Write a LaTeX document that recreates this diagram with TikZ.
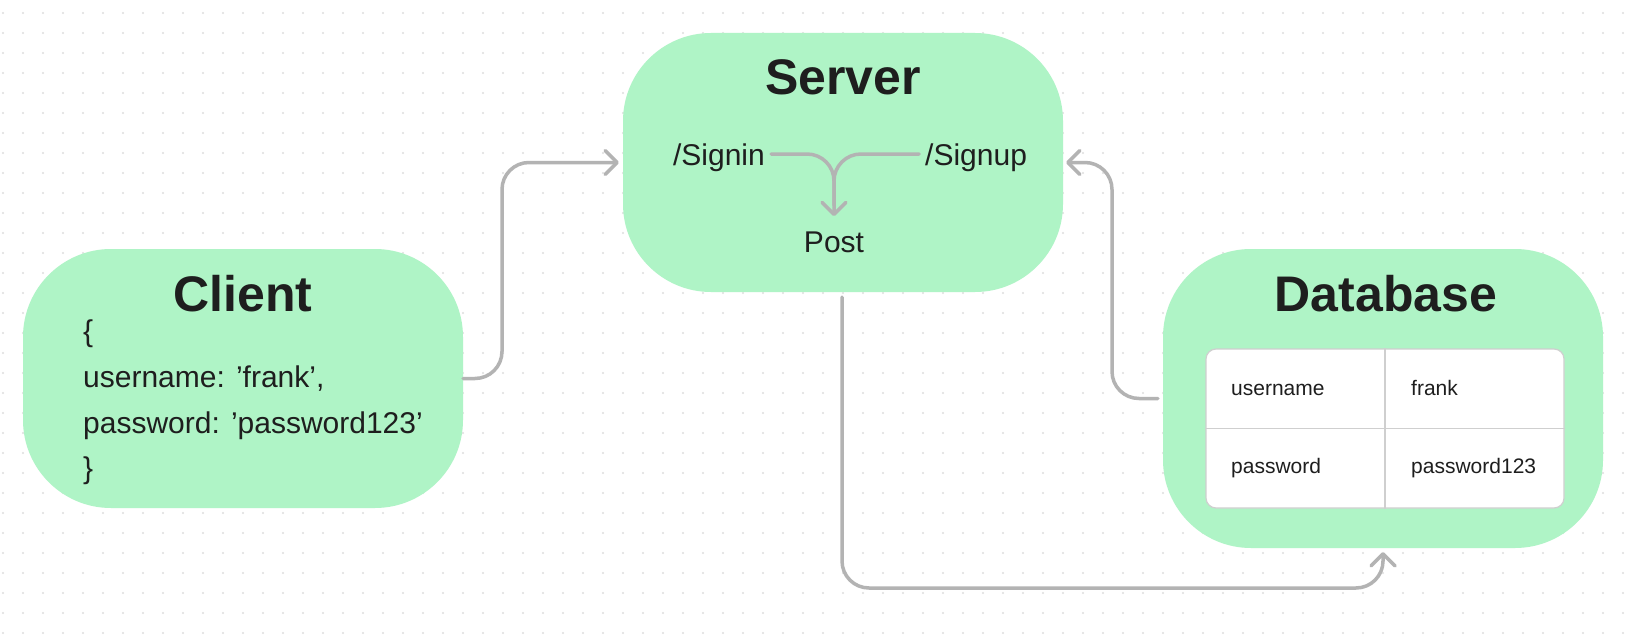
\documentclass[tikz,border=0pt]{standalone}
\usepackage{fontspec}
\setmainfont{Liberation Sans}
\usetikzlibrary{arrows.meta}
\definecolor{boxgreen}{HTML}{AFF4C6}
\definecolor{ink}{HTML}{1E1E1E}
\definecolor{wire}{HTML}{B3B3B3}
\definecolor{griddot}{HTML}{DEDEDE}
\definecolor{cellline}{HTML}{CFCFCF}
\begin{document}
\begin{tikzpicture}[x=1pt,y=-1pt,
  panel/.style={fill=boxgreen, draw=none, rounded corners=88pt, inner sep=0pt, minimum width=440pt},
  title/.style={font=\fontsize{50}{60}\selectfont\bfseries, text=ink, anchor=base, inner sep=0pt},
  body/.style={font=\fontsize{30}{36}\selectfont, text=ink, anchor=base west, inner sep=0pt},
  cell/.style={font=\fontsize{21}{25}\selectfont, text=ink, anchor=base west, inner sep=0pt},
  wireline/.style={draw=wire, line width=3.5pt, rounded corners=27pt, line cap=round},
  conn/.style={wireline, -{Straight Barb[length=12pt,width=24pt,line cap=round,line join=round]}},
]
\useasboundingbox (0,0) rectangle (1638,642);
\fill[white] (0,0) rectangle (1638,642);
\foreach \i in {0,...,81} \foreach \j in {0,...,31} \fill[griddot] (3+20*\i,13+20*\j) circle (1.1pt);

% panels
\node[panel, minimum height=259pt] (server) at (843,162.5) {};
\node[panel, minimum height=259pt] (client) at (243,378.5) {};
\node[panel, minimum height=299pt] (database) at (1383,398.5) {};

% titles
\node[title] (servertitle) at (843,94) {Server};
\node[title] (clienttitle) at (243,311) {Client};
\node[title] (dbtitle) at (1386,311) {Database};

% client body
\node[body] (cl1) at (83,341) {\{};
\node[body] (cl2) at (83,387) {username: ’frank’,};
\node[body] (cl3) at (83,433) {password: ’password123’};
\node[body] (cl4) at (83,478) {\}};

% server body
\node[body, anchor=base east] (signin) at (765,165) {/Signin};
\node[body] (signup) at (925,165) {/Signup};
\node[body, anchor=base] (post) at (834,252) {Post};
\coordinate (jn) at (834,154);
\draw[wireline, shorten <=6pt, shorten >=26pt] (signup.west |- jn) -- (jn) -- (post.north);
\draw[conn, shorten <=6pt, shorten >=15pt] (signin.east |- jn) -- (jn) -- (post.north);

% database table
\node[fill=white, draw=cellline, line width=1.2pt, rounded corners=10pt, minimum width=358pt, minimum height=159pt, inner sep=0pt] (dbtable) at (1385,428.5) {};
\draw[cellline, line width=1.2pt] (dbtable.north) -- (dbtable.south);
\draw[cellline, line width=1.2pt] (dbtable.west) -- (dbtable.east);
\node[cell] (c11) at (1231,395) {username};
\node[cell] (c12) at (1411,395) {frank};
\node[cell] (c21) at (1231,473) {password};
\node[cell] (c22) at (1411,473) {password123};

% connectors
\coordinate (bendA) at (502,378.5);
\draw[conn, shorten >=4pt] (client.east) -- (bendA) |- (server.west);
\coordinate (bendB) at (1112,398.5);
\draw[conn, shorten <=5pt, shorten >=3pt] (database.west) -- (bendB) |- (server.east);
\coordinate (bendC) at (842,588);
\draw[conn, shorten <=5pt, shorten >=4pt] (server.south -| bendC) -- (bendC) -| (database.south);
\end{tikzpicture}
\end{document}
